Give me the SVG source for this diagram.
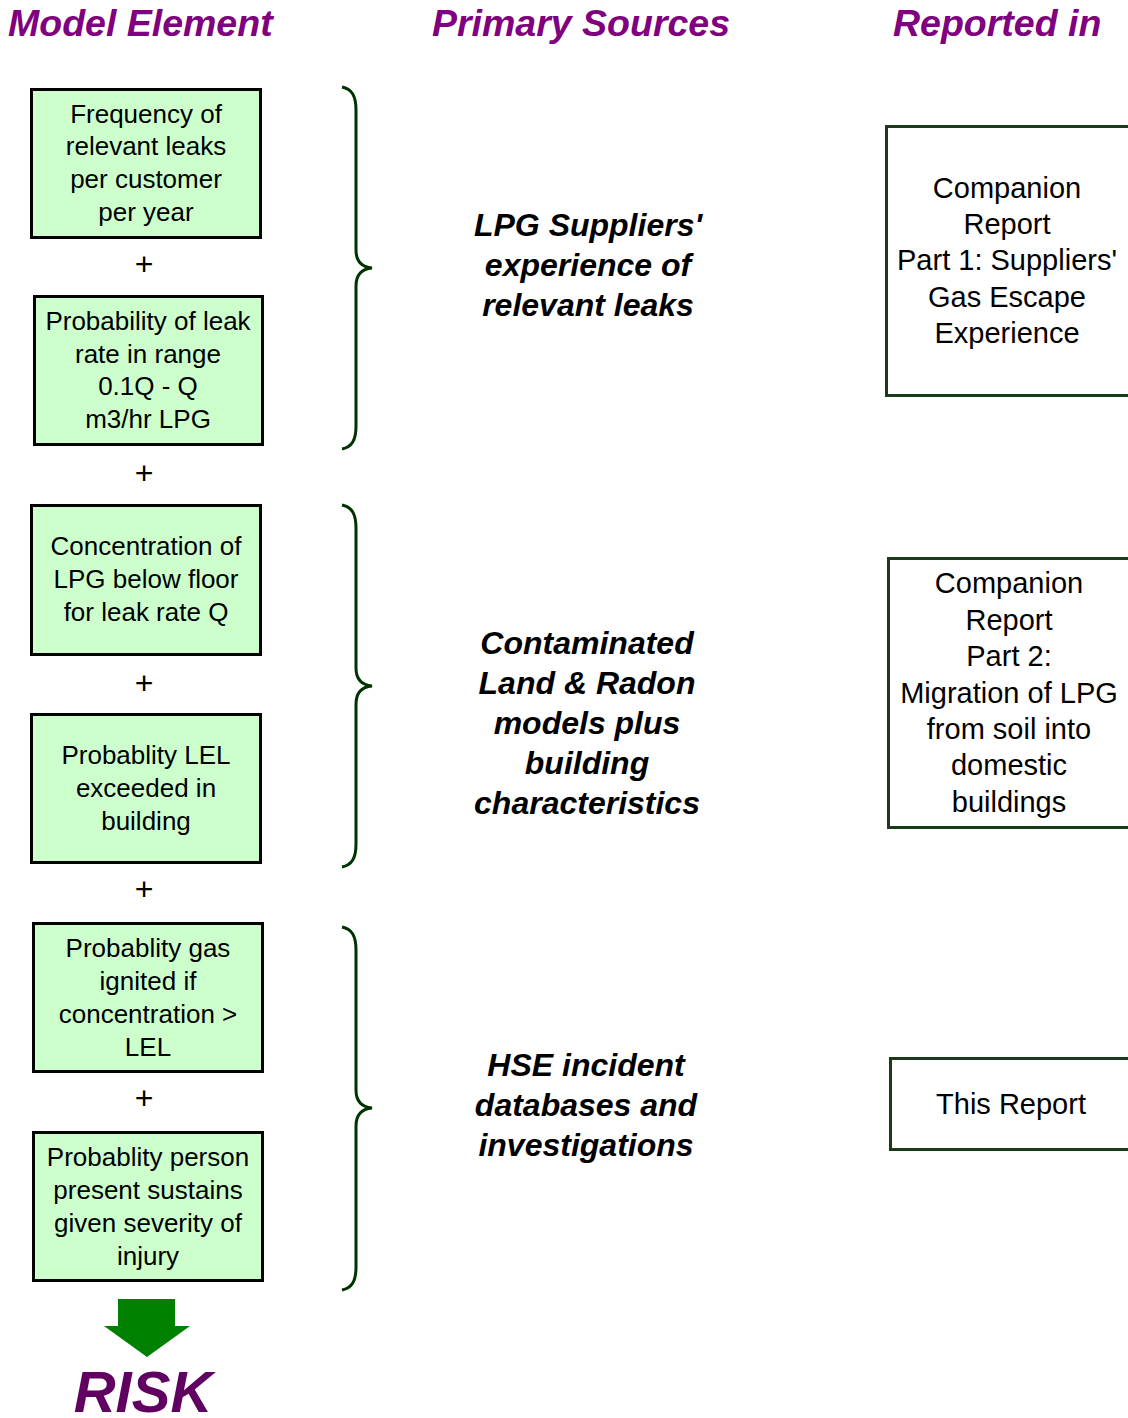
<svg xmlns="http://www.w3.org/2000/svg" width="1128" height="1418" viewBox="0 0 1128 1418">
<style>
.hdr{font-family:"Liberation Sans",Arial,sans-serif;font-weight:bold;font-style:italic;font-size:37.5px;fill:#800080}
.box{fill:#ccffcc;stroke:#000;stroke-width:3}
.bt{font-family:"Liberation Sans",Arial,sans-serif;font-size:26px;fill:#000;text-anchor:middle}
.plus{font-family:"Liberation Sans",Arial,sans-serif;font-size:32px;fill:#000;text-anchor:middle}
.brace{fill:none;stroke:#003300;stroke-width:3}
.mid{font-family:"Liberation Sans",Arial,sans-serif;font-weight:bold;font-style:italic;font-size:32px;fill:#000;text-anchor:middle}
.rbox{fill:#fff;stroke:#1a3a1a;stroke-width:3}
.rt{font-family:"Liberation Sans",Arial,sans-serif;font-size:29px;fill:#000;text-anchor:middle}
</style>
<rect width="1128" height="1418" fill="#fff"/>
<g id="headers">
<text class="hdr" x="8" y="36">Model Element</text>
<text class="hdr" x="432" y="36">Primary Sources</text>
<text class="hdr" x="893" y="36">Reported in</text>
</g>
<g id="n1"><rect class="box" x="31.5" y="89.5" width="229" height="148"/>
<text class="bt" x="146" y="123">Frequency of</text><text class="bt" x="146" y="155">relevant leaks</text><text class="bt" x="146" y="188">per customer</text><text class="bt" x="146" y="221">per year</text></g>
<g id="n2"><rect class="box" x="34.5" y="296.5" width="228" height="148"/>
<text class="bt" x="148" y="330">Probability of leak</text><text class="bt" x="148" y="363">rate in range</text><text class="bt" x="148" y="395">0.1Q - Q</text><text class="bt" x="148" y="428">m3/hr LPG</text></g>
<g id="n3"><rect class="box" x="31.5" y="505.5" width="229" height="149"/>
<text class="bt" x="146" y="555">Concentration of</text><text class="bt" x="146" y="588">LPG below floor</text><text class="bt" x="146" y="621">for leak rate Q</text></g>
<g id="n4"><rect class="box" x="31.5" y="714.5" width="229" height="148"/>
<text class="bt" x="146" y="764">Probablity LEL</text><text class="bt" x="146" y="797">exceeded in</text><text class="bt" x="146" y="830">building</text></g>
<g id="n5"><rect class="box" x="33.5" y="923.5" width="229" height="148"/>
<text class="bt" x="148" y="957">Probablity gas</text><text class="bt" x="148" y="990">ignited if</text><text class="bt" x="148" y="1023">concentration &gt;</text><text class="bt" x="148" y="1056">LEL</text></g>
<g id="n6"><rect class="box" x="33.5" y="1132.5" width="229" height="148"/>
<text class="bt" x="148" y="1166">Probablity person</text><text class="bt" x="148" y="1199">present sustains</text><text class="bt" x="148" y="1232">given severity of</text><text class="bt" x="148" y="1265">injury</text></g>
<g id="pluses">
<text class="plus" x="144" y="275">+</text>
<text class="plus" x="144" y="484">+</text>
<text class="plus" x="144" y="694">+</text>
<text class="plus" x="144" y="900">+</text>
<text class="plus" x="144" y="1109">+</text>
</g>
<g id="connectors">
<path class="brace" d="M342,87 C352,89 356,96 356,110 L356,250 C356,262 362,267 372,268 C362,269 356,274 356,286 L356,426 C356,440 352,447 342,449"/>
<path class="brace" d="M342,505 C352,507 356,514 356,528 L356,668 C356,680 362,685 372,686 C362,687 356,692 356,704 L356,844 C356,858 352,865 342,867"/>
<path class="brace" d="M342,927 C352,929 356,936 356,950 L356,1090 C356,1102 362,1107 372,1108 C362,1109 356,1114 356,1126 L356,1267 C356,1281 352,1288 342,1290"/>
<polygon id="arrow" points="118,1299 175,1299 175,1326 190,1326 147,1357 104,1326 118,1326" fill="#008000"/>
</g>
<g id="src1"><text class="mid" x="588" y="236">LPG Suppliers'</text><text class="mid" x="588" y="276">experience of</text><text class="mid" x="588" y="316">relevant leaks</text></g>
<g id="src2"><text class="mid" x="587" y="654">Contaminated</text><text class="mid" x="587" y="694">Land &amp; Radon</text><text class="mid" x="587" y="734">models plus</text><text class="mid" x="587" y="774">building</text><text class="mid" x="587" y="814">characteristics</text></g>
<g id="src3"><text class="mid" x="586" y="1076">HSE incident</text><text class="mid" x="586" y="1116">databases and</text><text class="mid" x="586" y="1156">investigations</text></g>
<g id="r1"><rect class="rbox" x="886.5" y="126.5" width="260" height="269"/>
<text class="rt" x="1007" y="198">Companion</text><text class="rt" x="1007" y="234">Report</text><text class="rt" x="1007" y="270">Part 1: Suppliers'</text><text class="rt" x="1007" y="307">Gas Escape</text><text class="rt" x="1007" y="343">Experience</text></g>
<g id="r2"><rect class="rbox" x="888.5" y="558.5" width="260" height="269"/>
<text class="rt" x="1009" y="593">Companion</text><text class="rt" x="1009" y="630">Report</text><text class="rt" x="1009" y="666">Part 2:</text><text class="rt" x="1009" y="703">Migration of LPG</text><text class="rt" x="1009" y="739">from soil into</text><text class="rt" x="1009" y="775">domestic</text><text class="rt" x="1009" y="812">buildings</text></g>
<g id="r3"><rect class="rbox" x="890.5" y="1058.5" width="260" height="91"/>
<text class="rt" x="1011" y="1114">This Report</text></g>
<g id="risk"><text x="143" y="1412" text-anchor="middle" style="font-family:'Liberation Sans',Arial,sans-serif;font-weight:bold;font-style:italic;font-size:58px;fill:#600060">RISK</text></g>
</svg>
